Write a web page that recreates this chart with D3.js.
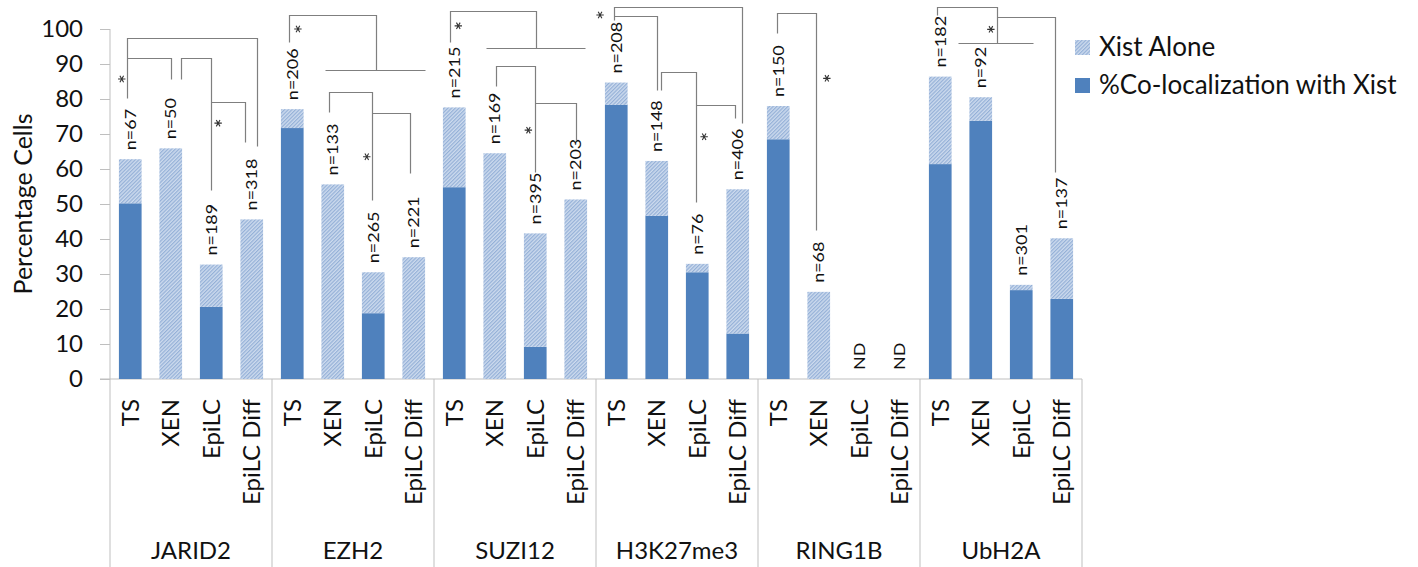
<!DOCTYPE html>
<html>
<head>
<meta charset="utf-8">
<script src="https://cdn.jsdelivr.net/npm/d3@7"></script>
<style>
  body { margin: 0; background: #fff; }
  text { font-family: Lato, "Open Sans", sans-serif; fill: #111; }
</style>
</head>
<body>
<div id="chart"></div>
<script>
// groups and cell types
const groups = ["JARID2", "EZH2", "SUZI12", "H3K27me3", "RING1B", "UbH2A"];
const cellTypes = ["TS", "XEN", "EpiLC", "EpiLC Diff"];

// % co-localization with Xist (bottom, solid) -- null = not determined
const coloc = [
  50.2, 0, 20.6, 0,
  71.7, 0, 18.8, 0,
  54.8, 0, 9.2, 0,
  78.3, 46.6, 30.5, 13.0,
  68.5, 0, null, null,
  61.4, 73.8, 25.4, 22.9
];
// Xist alone (stacked on top, hatched)
const xistAlone = [
  12.6, 65.9, 12.1, 45.6,
  5.4, 55.6, 11.7, 34.8,
  22.8, 64.5, 32.4, 51.3,
  6.4, 15.7, 2.4, 41.2,
  9.5, 24.9, null, null,
  25.0, 6.7, 1.5, 17.3
];
const nLabels = [
  "n=67", "n=50", "n=189", "n=318",
  "n=206", "n=133", "n=265", "n=221",
  "n=215", "n=169", "n=395", "n=203",
  "n=208", "n=148", "n=76", "n=406",
  "n=150", "n=68", "ND", "ND",
  "n=182", "n=92", "n=301", "n=137"
];
const yTicks = [0, 10, 20, 30, 40, 50, 60, 70, 80, 90, 100];

// significance brackets: polylines as [bar index, value]
const brackets = [
  // JARID2
  [[-0.08, 80.3], [-0.08, 97.3], [3.12, 97.3], [3.12, 66.6]],
  [[-0.08, 91.6], [1.01, 91.6], [1.01, 85.7]],
  [[1.25, 85.7], [1.25, 91.6], [1.99, 91.6], [1.99, 54.0]],
  [[1.99, 79.1], [2.83, 79.1], [2.83, 67.8]],
  // EZH2
  [[3.93, 96.2], [3.93, 104.1], [6.07, 104.1], [6.07, 88.3]],
  [[4.82, 88.3], [7.28, 88.3]],
  [[4.91, 76.4], [4.91, 82.1], [5.98, 82.1], [5.98, 51.1]],
  [[5.98, 75.9], [6.91, 75.9], [6.91, 58.8]],
  // SUZI12
  [[7.9, 96.4], [7.9, 105.2], [10.02, 105.2], [10.02, 94.7]],
  [[8.78, 94.7], [11.23, 94.7]],
  [[9.03, 83.7], [9.03, 89.5], [9.99, 89.5], [9.99, 59.2]],
  [[9.99, 78.8], [11.0, 78.8], [11.0, 68.3]],
  // H3K27me3
  [[11.95, 102.6], [11.95, 106.2], [15.1, 106.2], [15.1, 73.1]],
  [[11.95, 103.7], [13.0, 103.7], [13.0, 82.6]],
  [[13.11, 82.6], [13.11, 87.8], [13.97, 87.8], [13.97, 50.7]],
  [[13.97, 78.3], [14.93, 78.3], [14.93, 74.5]],
  // RING1B
  [[15.96, 98.8], [15.96, 104.5], [16.93, 104.5], [16.93, 42.6]],
  // UbH2A
  [[19.91, 104.0], [19.91, 106.2], [21.41, 106.2], [21.41, 96.1]],
  [[20.45, 96.1], [22.3, 96.1]],
  [[21.41, 103.5], [22.84, 103.5], [22.84, 59.2]]
];
const stars = [
  [-0.21, 85.7], [2.17, 73.1],
  [4.14, 100.0], [5.84, 63.5],
  [8.1, 100.9], [9.83, 71.1],
  [11.6, 104.0], [14.17, 69.2],
  [17.2, 85.9],
  [21.25, 99.9]
];

const W = 1418, H = 567;
const plotLeft = 110, plotRight = 1082, plotTop = 29, plotBase = 379;

const svg = d3.select("#chart").append("svg")
  .attr("width", W).attr("height", H);

const defs = svg.append("defs");
const pat = defs.append("pattern")
  .attr("id", "hatch")
  .attr("patternUnits", "userSpaceOnUse")
  .attr("width", 2.6).attr("height", 2.6)
  .attr("patternTransform", "rotate(45)");
pat.append("rect").attr("width", 2.6).attr("height", 2.6).attr("fill", "#cddbee");
pat.append("rect").attr("width", 1.2).attr("height", 2.6).attr("fill", "#94b0d7");

const idx = d3.range(coloc.length);

const x = d3.scaleBand()
  .domain(idx)
  .range([plotLeft, plotRight])
  .paddingInner(0.44)
  .paddingOuter(0.22);
const bw = x.bandwidth();

// bar index -> pixel centre, for the brackets
const xi = d3.scaleLinear()
  .domain([0, idx.length - 1])
  .range([x(0) + bw / 2, x(idx.length - 1) + bw / 2]);

const xg = d3.scaleBand().domain(groups).range([plotLeft, plotRight]);

const y = d3.scaleLinear().domain([0, 100]).range([plotBase, plotTop]);

// y axis
const yAxis = svg.append("g")
  .attr("transform", `translate(${plotLeft},0)`)
  .call(d3.axisLeft(y).tickValues(yTicks).tickSize(10).tickPadding(17));
yAxis.select(".domain").remove();
yAxis.selectAll(".tick line").attr("stroke", "#bfbfbf");
yAxis.selectAll(".tick text")
  .style("font-size", "24px")
  .attr("fill", "#111");

svg.append("line")
  .attr("x1", plotLeft).attr("x2", plotLeft)
  .attr("y1", plotTop).attr("y2", H)
  .attr("stroke", "#bfbfbf");
svg.append("line")
  .attr("x1", plotLeft - 10).attr("x2", plotRight)
  .attr("y1", plotBase).attr("y2", plotBase)
  .attr("stroke", "#bfbfbf");

// group dividers
groups.forEach(g => {
  svg.append("line")
    .attr("x1", xg(g) + xg.bandwidth()).attr("x2", xg(g) + xg.bandwidth())
    .attr("y1", plotBase).attr("y2", H)
    .attr("stroke", "#bfbfbf");
  svg.append("text")
    .attr("x", xg(g) + xg.bandwidth() / 2)
    .attr("y", 559)
    .attr("text-anchor", "middle")
    .style("font-size", "24px")
    .text(g);
});

svg.append("text")
  .attr("transform", `translate(32,${(plotTop + plotBase) / 2}) rotate(-90)`)
  .attr("text-anchor", "middle")
  .style("font-size", "25px")
  .text("Percentage Cells");

// bars
idx.forEach(i => {
  if (coloc[i] === null) return;
  const cx = x(i);
  if (coloc[i] > 0) {
    svg.append("rect")
      .attr("x", cx).attr("width", bw)
      .attr("y", y(coloc[i]))
      .attr("height", y(0) - y(coloc[i]))
      .attr("fill", "#4f81bd");
  }
  svg.append("rect")
    .attr("x", cx).attr("width", bw)
    .attr("y", y(coloc[i] + xistAlone[i]))
    .attr("height", y(coloc[i]) - y(coloc[i] + xistAlone[i]))
    .attr("fill", "url(#hatch)");
});

// n labels (slightly condensed, like the original)
idx.forEach(i => {
  const tot = coloc[i] === null ? 0 : coloc[i] + xistAlone[i];
  svg.append("text")
    .attr("transform", `translate(${x(i) + bw / 2},${y(tot) - 9}) rotate(-90) scale(1,0.85)`)
    .attr("dy", "0.35em")
    .style("font-size", "18px")
    .text(nLabels[i]);
});

// category tick labels
idx.forEach(i => {
  svg.append("text")
    .attr("transform", `translate(${x(i) + bw / 2},399) rotate(-90)`)
    .attr("dy", "0.35em")
    .attr("text-anchor", "end")
    .style("font-size", "24px")
    .text(cellTypes[i % 4]);
});

// brackets
const line = d3.line().x(d => Math.round(xi(d[0])) + 0.5).y(d => Math.round(y(d[1])) + 0.5);
svg.selectAll(".bracket").data(brackets).join("path")
  .attr("class", "bracket")
  .attr("d", line)
  .attr("fill", "none")
  .attr("stroke", "#7f7f7f")
  .attr("stroke-width", 1.2);

// significance stars
const star = d3.symbol().type(d3.symbolAsterisk).size(38);
svg.selectAll(".star").data(stars).join("path")
  .attr("class", "star")
  .attr("transform", d => `translate(${xi(d[0])},${y(d[1])}) rotate(90)`)
  .attr("d", star)
  .attr("fill", "none")
  .attr("stroke", "#333")
  .attr("stroke-width", 1.1);

// legend
const legend = [
  { label: "Xist Alone", fill: "url(#hatch)" },
  { label: "%Co-localization with Xist", fill: "#4f81bd" }
];
legend.forEach((d, k) => {
  const ly = 40 + k * 38;
  svg.append("rect")
    .attr("x", 1075).attr("y", ly)
    .attr("width", 15).attr("height", 15)
    .attr("fill", d.fill);
  svg.append("text")
    .attr("x", 1099).attr("y", ly + 16)
    .style("font-size", "26px")
    .text(d.label);
});
</script>
</body>
</html>
